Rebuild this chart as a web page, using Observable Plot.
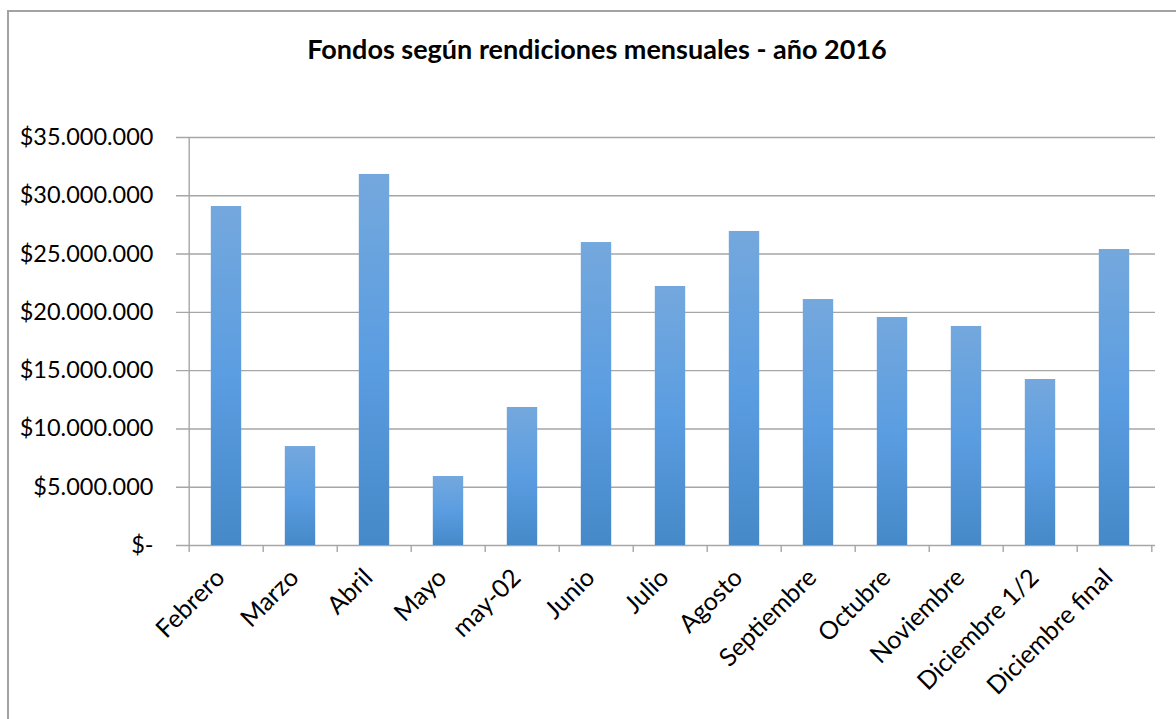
<!DOCTYPE html>
<html>
<head>
<meta charset="utf-8">
<script src="https://cdn.jsdelivr.net/npm/d3@7"></script>
<script src="https://cdn.jsdelivr.net/npm/@observablehq/plot@0.6"></script>
<style>
  html, body { margin: 0; padding: 0; background: #fff; overflow: hidden; width: 1176px; height: 719px; }
  #frame { position: absolute; left: 7px; top: 10px; width: 1300px; height: 900px; border: 2px solid #a3a3a3; box-sizing: border-box; }
  #title { position: absolute; left: 0; width: 1194px; top: 32px; text-align: center; font-family: Lato, sans-serif; font-weight: bold; font-size: 27px; color: #000; }
  #chart { position: absolute; left: 0; top: 100px; }
</style>
</head>
<body>
<div id="frame"></div>
<div id="title">Fondos según rendiciones mensuales - año 2016</div>
<div id="chart"></div>
<script>
const categories = ["Febrero", "Marzo", "Abril", "Mayo", "may-02", "Junio", "Julio", "Agosto", "Septiembre", "Octubre", "Noviembre", "Diciembre 1/2", "Diciembre final"];
const values = [29080000, 8490000, 31830000, 5920000, 11840000, 25990000, 22220000, 26940000, 21100000, 19560000, 18790000, 14240000, 25390000];
const yTicks = [0, 5000000, 10000000, 15000000, 20000000, 25000000, 30000000, 35000000];

const data = categories.map((c, i) => ({category: c, value: values[i]}));
const fmt = d => d === 0 ? "$-" : "$" + d3.format(",")(d).replace(/,/g, ".");

const W = 1176, H = 619, mL = 185, mR = 21, mT = 37, mB = 174;
const step = (W - mL - mR) / categories.length;
const barW = 31;
const gridColor = "#a6a6a6";

const chart = Plot.plot({
  width: W, height: H,
  marginLeft: mL, marginRight: mR, marginTop: mT, marginBottom: mB,
  style: {fontFamily: "Lato, sans-serif", color: "#000", background: "transparent"},
  x: {domain: categories, padding: 0, label: null},
  y: {domain: [0, 35000000], label: null},
  marks: [
    Plot.gridY(yTicks, {stroke: gridColor, strokeOpacity: 1, strokeWidth: 1.4, insetLeft: -9}),
    Plot.ruleX([categories[0]], {x: d => d, dx: -step / 2, stroke: gridColor, strokeWidth: 1.4, insetBottom: -7}),
    Plot.ruleX(categories.slice(1), {x: d => d, dx: -step / 2, stroke: gridColor, strokeWidth: 1.4, insetTop: H - mT - mB, insetBottom: -7}),
    Plot.ruleX([categories[categories.length - 1]], {x: d => d, dx: step / 2, stroke: gridColor, strokeWidth: 1.4, insetTop: H - mT - mB, insetBottom: -7}),
    Plot.barY(data, {x: "category", y: "value", fill: "url(#barGrad)", insetLeft: (step - barW) / 2, insetRight: (step - barW) / 2}),
    Plot.axisY(yTicks, {tickFormat: fmt, tickSize: 0, tickPadding: 32, fontSize: 23.5, fill: "#000"}),
    Plot.axisX({tickRotate: -45, tickSize: 0, tickPadding: 28, dx: -6, fontSize: 25, fill: "#000"})
  ]
});

const ns = "http://www.w3.org/2000/svg";
const defs = document.createElementNS(ns, "defs");
const grad = document.createElementNS(ns, "linearGradient");
grad.setAttribute("id", "barGrad");
grad.setAttribute("x1", "0"); grad.setAttribute("y1", "0");
grad.setAttribute("x2", "0"); grad.setAttribute("y2", "1");
[["0", "#74a8dd"], ["0.5", "#5b9de1"], ["1", "#4689c8"]].forEach(([o, c]) => {
  const s = document.createElementNS(ns, "stop");
  s.setAttribute("offset", o); s.setAttribute("stop-color", c);
  grad.appendChild(s);
});
defs.appendChild(grad);
chart.insertBefore(defs, chart.firstChild);
document.getElementById("chart").appendChild(chart);
</script>
</body>
</html>
